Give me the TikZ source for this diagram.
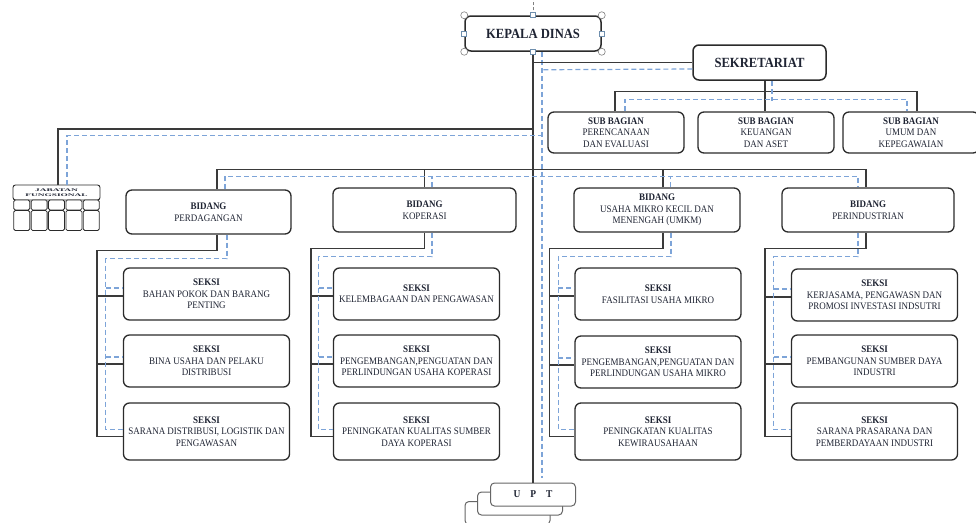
\documentclass[tikz,border=0pt]{standalone}
\usepackage{fontspec}
\setmainfont{Liberation Serif}[FakeStretch=0.9]
\usepackage{graphicx}
\usetikzlibrary{calc}

\definecolor{trunk}{HTML}{3A3A3A}
\definecolor{boxline}{HTML}{2B2B2B}
\definecolor{dashblue}{HTML}{7DA4D8}
\definecolor{inktext}{HTML}{1F2433}
\definecolor{gripblue}{HTML}{6F8FAE}

\tikzset{
    unitbox/.style={draw=boxline, line width=1.3pt, rounded corners=6pt, fill=white, align=center,
        inner sep=1pt, text=inktext, font=\fontsize{10}{11.5}\selectfont},
    subbox/.style={unitbox, minimum width=136pt, minimum height=41pt},
    bidangbox/.style={unitbox, minimum height=44pt},
    seksibox/.style={unitbox, minimum width=166pt, minimum height=52pt},
    headbox/.style={unitbox, line width=1.5pt, minimum height=35pt, font=\fontsize{14}{16}\selectfont\bfseries},
    uptbox/.style={unitbox, rounded corners=4pt, line width=1pt, draw=gray!80!black, minimum width=85pt,
        minimum height=23pt, font=\fontsize{10.5}{12}\selectfont\bfseries},
    cell/.style={draw=boxline, line width=0.8pt, rounded corners=1.5pt, fill=white, minimum width=16pt, inner sep=0pt},
    solidline/.style={draw=trunk, line width=1.6pt},
    dashline/.style={draw=dashblue, line width=1.2pt, dash pattern=on 5pt off 3pt},
    grip/.style={draw=gripblue, fill=white, line width=0.6pt, minimum size=5pt, inner sep=0pt},
    ring/.style={draw=gray, fill=white, line width=0.6pt},
}

\begin{document}
\begin{tikzpicture}[x=1pt, y=-1pt]
    \useasboundingbox (0,0) rectangle (976,522);

    %top of the chart
        \node[headbox, minimum width=136pt] (kepala) at (533,33.5) {KEPALA DINAS};
        \node[headbox, minimum width=133pt] (sekre) at (759.5,62.5) {SEKRETARIAT};

    %sub bagian under sekretariat
        \node[subbox] (sb1) at (616,132.5) {\textbf{SUB BAGIAN}\\PERENCANAAN\\DAN EVALUASI};
        \node[subbox] (sb2) at (766,132.5) {\textbf{SUB BAGIAN}\\KEUANGAN\\DAN ASET};
        \node[subbox] (sb3) at (911,132.5) {\textbf{SUB BAGIAN}\\UMUM DAN\\KEPEGAWAIAN};

    %jabatan fungsional
        \node[unitbox, rounded corners=2.5pt, line width=0.9pt, minimum width=87pt, minimum height=15pt, inner sep=0pt,
            font=\fontsize{4}{5.5}\selectfont\bfseries] (jabh) at (56.5,192.5)
            {\scalebox{2.6}[1]{JABATAN}\\\scalebox{2.6}[1]{FUNGSIONAL}};
        \foreach \c in {0,...,4} {
            \node[cell, minimum height=10pt] (jt\c) at (21.7+17.4*\c,205) {};
            \node[cell, minimum height=20pt] (jb\c) at (21.7+17.4*\c,220.5) {};
        }

    %bidang
        \node[bidangbox, minimum width=165pt] (bd1) at (208.5,212) {\textbf{BIDANG}\\PERDAGANGAN};
        \node[bidangbox, minimum width=183pt] (bd2) at (424.5,210) {\textbf{BIDANG}\\KOPERASI};
        \node[bidangbox, minimum width=166pt] (bd3) at (657,210) {\textbf{BIDANG}\\USAHA MIKRO KECIL DAN\\MENENGAH (UMKM)};
        \node[bidangbox, minimum width=172pt] (bd4) at (868,210) {\textbf{BIDANG}\\PERINDUSTRIAN};

    %seksi
        \node[seksibox] (s11) at (206.5,294) {\textbf{SEKSI}\\BAHAN POKOK DAN BARANG\\PENTING};
        \node[seksibox] (s12) at (206.5,361) {\textbf{SEKSI}\\BINA USAHA DAN PELAKU\\DISTRIBUSI};
        \node[seksibox, minimum height=57pt] (s13) at (206.5,431.5) {\textbf{SEKSI}\\SARANA DISTRIBUSI, LOGISTIK DAN\\PENGAWASAN};

        \node[seksibox] (s21) at (416.5,294) {\textbf{SEKSI}\\KELEMBAGAAN DAN PENGAWASAN};
        \node[seksibox] (s22) at (416.5,361) {\textbf{SEKSI}\\PENGEMBANGAN,PENGUATAN DAN\\PERLINDUNGAN USAHA KOPERASI};
        \node[seksibox, minimum height=57pt] (s23) at (416.5,431.5) {\textbf{SEKSI}\\PENINGKATAN KUALITAS SUMBER\\DAYA KOPERASI};

        \node[seksibox] (s31) at (658,294) {\textbf{SEKSI}\\FASILITASI USAHA MIKRO};
        \node[seksibox] (s32) at (658,362) {\textbf{SEKSI}\\PENGEMBANGAN,PENGUATAN DAN\\PERLINDUNGAN USAHA MIKRO};
        \node[seksibox, minimum height=57pt] (s33) at (658,431.5) {\textbf{SEKSI}\\PENINGKATAN KUALITAS\\KEWIRAUSAHAAN};

        \node[seksibox] (s41) at (874.5,295) {\textbf{SEKSI}\\KERJASAMA, PENGAWASN DAN\\PROMOSI INVESTASI INDSUTRI};
        \node[seksibox] (s42) at (874.5,361) {\textbf{SEKSI}\\PEMBANGUNAN SUMBER DAYA\\INDUSTRI};
        \node[seksibox, minimum height=57pt] (s43) at (874.5,431.5) {\textbf{SEKSI}\\SARANA PRASARANA DAN\\PEMBERDAYAAN INDUSTRI};

    %upt, stacked
        \node[uptbox] (upt3) at (507.5,513) {};
        \node[uptbox] (upt2) at (520,503.5) {};
        \node[uptbox] (upt1) at (533,494.5) {U\hspace{10pt}P\hspace{10pt}T};

    %main trunk and sekretariat
        \draw[gray, line width=0.6pt, densely dashed] (kepala.north) -- ++(0,-16);
        \draw[solidline] (kepala.south) -- (upt1.north);
        \draw[dashline] ($(kepala.south)+(9,0)$) -- ($(upt1.north)+(9,-5)$);
        \draw[solidline] (sekre.west) -- (sekre.west -| kepala.south);
        \draw[dashline] ($(sekre.west)+(0,6.5)$) -- ($(kepala.south)+(9,18)$);

    %sub bagian lines
        \draw[solidline] ($(sekre.south)+(5.5,0)$) -- ($(sb2.north)+(-1,0)$);
        \draw[solidline] ($(sb1.north)+(-1,0)$) -- ++(0,-20) -| ($(sb3.north)+(6,0)$);
        \draw[dashline] ($(sekre.south)+(12.5,0)$) -- ++(0,20);
        \draw[dashline] ($(sb1.north)+(9,0)$) -- ++(0,-12) -| ($(sb3.north)+(-4,0)$);

    %jabatan fungsional lines
        \draw[solidline] ($(jabh.north)+(1.5,0)$) |- ($(kepala.south)+(0,77)$);
        \draw[dashline] ($(jabh.north)+(10.5,0)$) |- ($(kepala.south)+(9,84)$);

    %bidang lines
        \draw[solidline] ($(bd1.north)+(8.5,0)$) -- ++(0,-20) -| ($(bd4.north)+(-2,0)$);
        \draw[solidline] (bd2.north) -- ++(0,-18);
        \draw[solidline] ($(bd3.north)+(6,0)$) -- ++(0,-18);
        \draw[dashline] ($(bd1.north)+(16.5,0)$) -- ++(0,-13) -| ($(bd4.north)+(-10,0)$);
        \draw[dashline] ($(bd2.north)+(7.5,0)$) -- ++(0,-11);
        \draw[dashline] ($(bd3.north)+(13.5,0)$) -- ++(0,-11);

    %seksi lines
        \foreach \i/\soff/\doff/\sgap/\dgap in {1/8.5/18.5/-26/-17, 2/0/7.5/-22/-14, 3/6/14/-25/-16, 4/-2/-10/-26/-17} {
            \draw[solidline] ($(bd\i.south)+(\soff,0)$) -- ++(0,16) -| ($(s\i3.west)+(\sgap,5)$) -- ($(s\i3.west)+(0,5)$);
            \draw[solidline] ($(s\i1.west)+(\sgap,2)$) -- ($(s\i1.west)+(0,2)$);
            \draw[solidline] ($(s\i2.west)+(\sgap,3)$) -- ($(s\i2.west)+(0,3)$);
            \draw[dashline] ($(bd\i.south)+(\doff,0)$) -- ++(0,24) -| ($(s\i3.west)+(\dgap,-2)$) -- ($(s\i3.west)+(0,-2)$);
            \draw[dashline] ($(s\i1.west)+(\dgap,-6)$) -- ($(s\i1.west)+(0,-6)$);
            \draw[dashline] ($(s\i2.west)+(\dgap,-4)$) -- ($(s\i2.west)+(0,-4)$);
        }

    %selection handles on kepala dinas
        \draw[ring] (kepala.north west) circle (3.5);
        \draw[ring] (kepala.north east) circle (3.5);
        \draw[ring] (kepala.south west) circle (3.5);
        \draw[ring] (kepala.south east) circle (3.5);
        \node[grip] (gn) at (kepala.north) {};
        \node[grip] (gs) at (kepala.south) {};
        \node[grip] (gw) at (kepala.west) {};
        \node[grip] (ge) at (kepala.east) {};

\end{tikzpicture}
\end{document}
